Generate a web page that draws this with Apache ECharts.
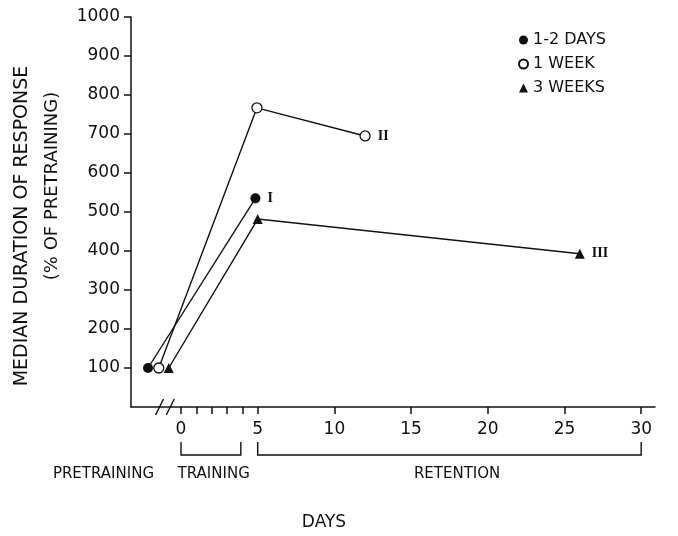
<!DOCTYPE html>
<html>
<head>
<meta charset="utf-8">
<script src="https://cdn.jsdelivr.net/npm/echarts@6/dist/echarts.min.js"></script>
<style>
  html, body { margin: 0; background: #fff; }
  #main { width: 678px; height: 536px; }
</style>
</head>
<body>
<div id="main"></div>
<script>
// data
var seriesNames = ["1-2 DAYS", "1 WEEK", "3 WEEKS"];
var curveTags = ["I", "II", "III"];
var daysShort = [-2.15, 4.85];
var valsShort = [100, 535];
var daysWeek = [-1.45, 4.95, 12];
var valsWeek = [100, 767, 695];
var days3Weeks = [-0.8, 5, 26];
var vals3Weeks = [100, 482, 393];
var xTickValues = [0, 1, 2, 3, 4, 5, 10, 15, 20, 25, 30];
var xLabelValues = [0, 5, 10, 15, 20, 25, 30];
var yTickValues = [100, 200, 300, 400, 500, 600, 700, 800, 900, 1000];

var FONT = "DejaVu Sans";

function pairs(xs, ys) {
  return xs.map(function (x, i) { return [x, ys[i]]; });
}

// tag only the last point of each curve
function tagged(points, tag) {
  return points.map(function (p, i) {
    if (i < points.length - 1) return p;
    return {
      value: p,
      label: {
        show: true, position: "right", distance: 7, formatter: tag,
        fontFamily: "Liberation Serif", fontWeight: "bold", fontSize: 14, color: "#111"
      }
    };
  });
}

var lineStyle = { color: "#111", width: 1.4 };

var chart = echarts.init(document.getElementById("main"));

var option = {
  animation: false,
  backgroundColor: "#fff",
  grid: { left: 131, right: 23, top: 17, bottom: 129 },
  legend: {
    orient: "vertical",
    left: 513,
    top: 27,
    itemWidth: 9,
    itemHeight: 9,
    itemGap: 8,
    textStyle: { fontFamily: FONT, fontSize: 16, color: "#111" },
    data: [
      { name: seriesNames[0], icon: "circle" },
      { name: seriesNames[1], icon: "circle" },
      { name: seriesNames[2], icon: "triangle" }
    ]
  },
  xAxis: {
    type: "value",
    min: -3.26,
    max: 30.9,
    splitLine: { show: false },
    axisLine: { lineStyle: { color: "#111", width: 1.5 } },
    axisTick: { customValues: xTickValues, length: 7, lineStyle: { color: "#111", width: 1.5 } },
    axisLabel: { customValues: xLabelValues, margin: 14, fontFamily: FONT, fontSize: 17, color: "#111" }
  },
  yAxis: {
    type: "value",
    min: 0,
    max: 1000,
    splitLine: { show: false },
    axisLine: { show: true, onZero: false, lineStyle: { color: "#111", width: 1.5 } },
    axisTick: { show: true, customValues: yTickValues, length: 7, lineStyle: { color: "#111", width: 1.5 } },
    axisLabel: {
      customValues: yTickValues, margin: 11, fontFamily: FONT, fontSize: 17, color: "#111",
      formatter: function (v) { return String(v); }
    }
  },
  series: [
    {
      name: seriesNames[0], type: "line",
      data: tagged(pairs(daysShort, valsShort), curveTags[0]),
      symbol: "circle", symbolSize: 10,
      itemStyle: { color: "#111" }, lineStyle: lineStyle
    },
    {
      name: seriesNames[1], type: "line",
      data: tagged(pairs(daysWeek, valsWeek), curveTags[1]),
      symbol: "circle", symbolSize: 10,
      itemStyle: { color: "#fff", borderColor: "#111", borderWidth: 1.3 }, lineStyle: lineStyle
    },
    {
      name: seriesNames[2], type: "line",
      data: tagged(pairs(days3Weeks, vals3Weeks), curveTags[2]),
      symbol: "triangle", symbolSize: 10,
      itemStyle: { color: "#111" }, lineStyle: lineStyle
    }
  ]
};

chart.setOption(option);

// annotations placed through the axes
function px(d, v) { return chart.convertToPixel({ gridIndex: 0 }, [d, v]); }

var y0 = px(0, 0)[1];
var s1 = px(-1.4, 0)[0];
var s2 = px(-0.7, 0)[0];
var brTop = 442, brBottom = 455;

function bracket(d1, d2) {
  var a = px(d1, 0)[0], b = px(d2, 0)[0];
  return {
    type: "polyline",
    shape: { points: [[a, brTop], [a, brBottom], [b, brBottom], [b, brTop]] },
    style: { stroke: "#111", lineWidth: 1.4, fill: null }
  };
}

function label(text, x, y, size, align, rot) {
  return {
    type: "text", x: x, y: y, rotation: rot || 0,
    style: {
      text: text, fill: "#111", font: size + "px '" + FONT + "'",
      align: align || "center", verticalAlign: "middle"
    }
  };
}

chart.setOption({
  graphic: [
    { type: "rect", shape: { x: s1 + 1, y: y0 - 3, width: s2 - s1 - 2, height: 6 }, style: { fill: "#fff" } },
    { type: "line", shape: { x1: s1 - 4, y1: y0 + 8, x2: s1 + 4, y2: y0 - 8 }, style: { stroke: "#111", lineWidth: 1.4 } },
    { type: "line", shape: { x1: s2 - 4, y1: y0 + 8, x2: s2 + 4, y2: y0 - 8 }, style: { stroke: "#111", lineWidth: 1.4 } },
    bracket(0, 3.9),
    bracket(5, 30),
    label("PRETRAINING", 154, 474, 15, "right"),
    label("TRAINING", px(2, 0)[0] + 2, 474, 15),
    label("RETENTION", px(18, 0)[0], 474, 15),
    label("DAYS", 324, 523, 17),
    label("MEDIAN DURATION OF RESPONSE", 22, 226, 19, "center", Math.PI / 2),
    label("(% OF PRETRAINING)", 52, 186, 18, "center", Math.PI / 2)
  ]
});
</script>
</body>
</html>
